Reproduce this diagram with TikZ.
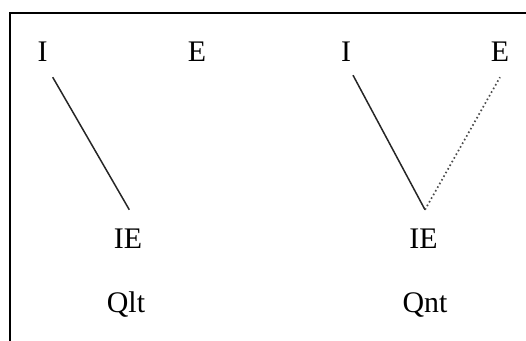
\documentclass[tikz,border=0pt]{standalone}
\usepackage{fontspec}
\setmainfont{Liberation Serif}
\usepackage{tikz}
\usetikzlibrary{calc}

\begin{document}
\begin{tikzpicture}[
  x=1bp, y=-1bp,
  lbl/.style={anchor=base, inner sep=0pt, font=\fontsize{30}{31}\selectfont},
  link/.style={line width=1.5bp, black!85},
  weak/.style={line width=1.7bp, black!70, dash pattern=on 1.6bp off 2.6bp},
  frame/.style={line width=2.4bp, line cap=rect}
]
  \useasboundingbox (0,0) rectangle (526,340);

  % Frame
  \draw[frame] (10,341) -- (10,13) -- (527,13);

  % Qlt
  \node[lbl] (i1) at (42.7,61) {I};
  \node[lbl] (e1) at (197,61) {E};
  \node[lbl] (ie1) at (128,248) {IE};
  \node[lbl] (q1) at (126,312) {Qlt};

  % Qnt
  \node[lbl] (i2) at (346,61) {I};
  \node[lbl] (e2) at (500,61) {E};
  \node[lbl] (ie2) at (423.5,248) {IE};
  \node[lbl] (q2) at (425,312) {Qnt};

  % Links
  \draw[link] ($(i1.south)+(10,16)$) -- ($(ie1.north)+(1.3,-18.5)$);
  \draw[link] ($(i2.south)+(7,14)$) -- ($(ie2.north)+(1.5,-18.5)$);
  \draw[weak] ($(ie2.north)+(1.5,-18.5)$) -- ($(e2.south)+(0,16)$);
\end{tikzpicture}
\end{document}
